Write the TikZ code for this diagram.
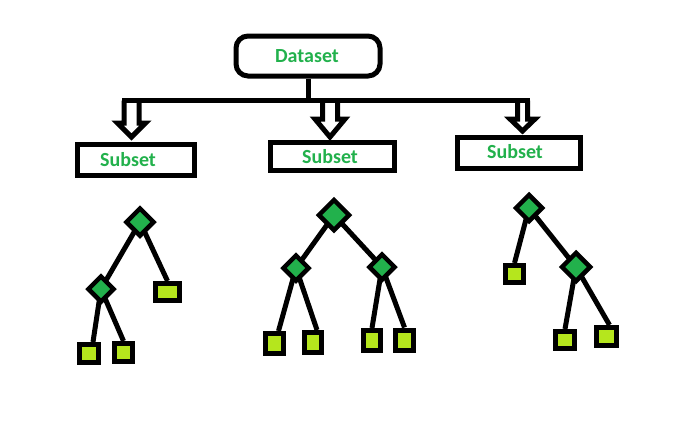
\documentclass[tikz,border=0pt]{standalone}
\usepackage{fontspec}
\setmainfont{Carlito}
\usetikzlibrary{shapes.geometric,backgrounds}
\definecolor{txtgreen}{RGB}{34,177,76}
\definecolor{dgreen}{RGB}{34,177,76}
\definecolor{lime}{RGB}{181,230,29}
\tikzset{
  stroke/.style={line width=5pt, draw=black},
  lbl/.style={text=txtgreen, font=\fontsize{20}{23}\selectfont\bfseries, inner sep=0pt},
  boxnode/.style={stroke, rectangle, inner sep=0pt, fill=white},
  dnode/.style={line width=4.5pt, draw=black, diamond, fill=dgreen, inner sep=0pt, minimum width=#1, minimum height=#1},
  leaf/.style n args={2}{stroke, rectangle, fill=lime, inner sep=0pt, minimum width=#1, minimum height=#2},
  edge/.style={line width=5pt, draw=black},
  barrow/.style={line width=5pt, draw=black, line join=miter, fill=white}
}
\newcommand{\blockarrow}[6]{% x, ytop, yhead, ytip, shaft half, head half
  \draw[barrow] (#1-#5,#2) -- (#1-#5,#3) -- (#1-#6,#3) -- (#1,#4) -- (#1+#6,#3) -- (#1+#5,#3) -- (#1+#5,#2);
}
\begin{document}
\begin{tikzpicture}[x=1pt,y=-1pt]
\useasboundingbox (0,0) rectangle (696,426);
% top part
\node[stroke, rounded corners=12pt, minimum width=144pt, minimum height=40pt, inner sep=0pt] (ds) at (308,56) {};
\node[lbl] (dst) at (307,56) {Dataset};
\coordinate (hl) at (124,100.5);
\coordinate (hr) at (527.5,100.5);
\coordinate (hm) at (308,100.5);
\blockarrow{131.5}{100.5}{123}{137}{7.5}{14}
\blockarrow{330}{98}{119}{137}{7.5}{15}
\blockarrow{522.5}{100.5}{119}{131}{5}{12.5}
\draw[edge] (ds.south) -- (hm);
\draw[edge, line cap=rect] (hl) -- (hr);
\node[boxnode, minimum width=117pt, minimum height=31pt] (s1) at (136,160) {};
\node[boxnode, minimum width=124pt, minimum height=28pt] (s2) at (332.5,156.5) {};
\node[boxnode, minimum width=123pt, minimum height=31pt] (s3) at (519,153) {};
\node[lbl] (s1t) at (128,160) {Subset};
\node[lbl] (s2t) at (330,157) {Subset};
\node[lbl] (s3t) at (515,152) {Subset};
% tree 1
\node[dnode=29pt] (a0) at (140,222) {};
\node[dnode=27pt] (a1) at (101,289) {};
\node[leaf={24pt}{17pt}] (a2) at (167.5,292) {};
\node[leaf={19pt}{18pt}] (a3) at (89,353.5) {};
\node[leaf={18pt}{18pt}] (a4) at (123.5,352.5) {};
% tree 2
\node[dnode=32pt] (b0) at (334,215) {};
\node[dnode=27pt] (b1) at (296,268) {};
\node[dnode=27pt] (b2) at (382,267) {};
\node[leaf={18pt}{20pt}] (b3) at (274.5,343.5) {};
\node[leaf={17pt}{20pt}] (b4) at (313,342.5) {};
\node[leaf={17pt}{20pt}] (b5) at (372,340.5) {};
\node[leaf={18pt}{20pt}] (b6) at (404.5,340) {};
% tree 3
\node[dnode=28pt] (c0) at (529,208) {};
\node[leaf={18pt}{17pt}] (c1) at (514.5,274) {};
\node[dnode=30pt] (c2) at (576,267) {};
\node[leaf={19pt}{17pt}] (c3) at (565,340) {};
\node[leaf={20pt}{18pt}] (c4) at (606.5,336.5) {};
\begin{pgfonlayer}{background}
\draw[edge] (a0.center) -- (a1.center);
\draw[edge] (a0.center) -- (a2.north);
\draw[edge] (a1.center) -- ([xshift=4pt]a3.north);
\draw[edge] (a1.center) -- (a4.north);
\draw[edge] (b0.center) -- (b1.center);
\draw[edge] (b0.center) -- (b2.center);
\draw[edge] (b1.center) -- ([xshift=4pt]b3.north);
\draw[edge] (b1.center) -- ([xshift=4pt]b4.north);
\draw[edge] (b2.center) -- (b5.north);
\draw[edge] (b2.center) -- (b6.north);
\draw[edge] (c0.center) -- (c1.north);
\draw[edge] (c0.center) -- (c2.center);
\draw[edge] (c2.center) -- (c3.north);
\draw[edge] (c2.center) -- ([xshift=3pt]c4.north);
\end{pgfonlayer}
\end{tikzpicture}
\end{document}
